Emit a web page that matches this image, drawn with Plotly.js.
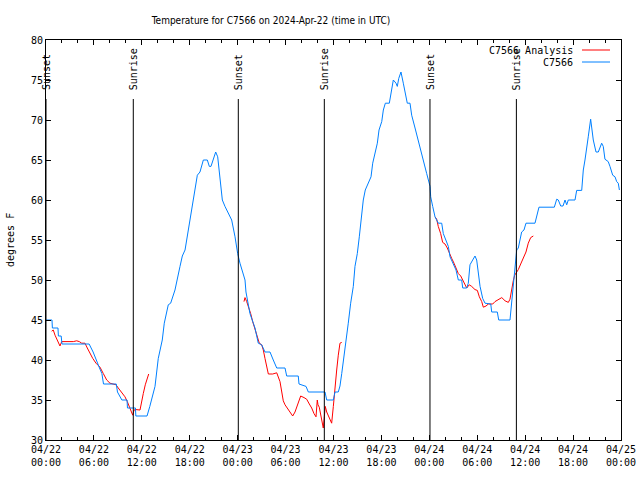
<!DOCTYPE html>
<html>
<head>
<meta charset="utf-8">
<script src="https://cdn.plot.ly/plotly-3.0.1.min.js"></script>
<style>html,body{margin:0;padding:0;background:#fff;}#chart{width:640px;height:480px;}</style>
</head>
<body>
<div id="chart"></div>
<script>
// Hours since 2024-04-22 00:00 UTC
const obsHours = [0,0.75,0.8,1.5,1.55,1.9,2.0,5.4,5.9,6.4,6.7,7.0,7.2,8.8,8.95,9.5,10.15,10.2,11.2,11.25,12.65,13.0,13.65,14.06,14.27,14.56,14.81,15.31,15.61,16.15,16.78,17.07,17.41,17.69,18.03,18.37,18.75,18.95,19.28,19.70,20.20,20.45,20.66,20.95,21.25,21.50,21.79,22.08,22.41,22.83,23.25,23.67,24.00,24.29,24.71,24.92,25.04,25.33,25.54,25.96,26.17,26.58,27.01,27.42,28.05,28.46,28.89,29.93,30.14,31.59,31.68,32.56,32.85,34.94,35.15,35.98,36.19,36.6,36.81,37.03,37.57,37.85,38.15,38.48,38.69,38.98,39.23,39.53,39.73,39.98,40.36,40.70,40.91,41.11,41.49,41.70,42.04,42.24,42.49,42.99,43.16,43.49,43.83,43.99,44.17,44.45,44.74,45.08,45.24,45.58,45.79,46.21,46.62,47.05,47.33,47.67,48.09,48.17,48.42,48.71,49.12,49.55,49.75,50.09,50.38,50.59,51.00,51.34,51.63,52.05,52.18,52.68,52.88,53.09,53.43,53.72,53.93,54.13,54.35,54.68,54.97,55.69,55.81,56.51,56.69,58.10,58.31,58.51,58.73,58.94,59.14,59.35,59.56,59.85,60.10,61.23,61.44,61.73,63.65,63.95,64.15,64.45,64.74,64.99,65.20,65.40,66.24,66.45,67.08,67.28,67.49,67.70,67.90,68.20,68.33,68.53,68.87,69.16,69.58,69.78,69.99,70.40,70.62,70.96,71.25,71.46,71.66,71.8];
const obsTemp = [45,45,44,44,43,43,42,42,41,39.6,39,38.3,37,37,36,35,35,34,34,33,33,34.2,36.7,40.2,41.3,42.5,44.6,46.9,47.1,48.75,51.7,53,53.75,55.4,57.5,59.8,61.7,63.1,63.5,65,65,64.2,64.2,65,66,65.4,62.9,60,59.2,58.3,57.5,55.4,53.3,52.1,50.8,50,48.5,46.8,45.8,44.6,44,42.1,41.9,41,41,40,39,39,38,38,37,36.7,36,36,35,35,36,36,36.75,38.3,42.1,44.6,47.1,49.2,51.7,53.3,55.4,58.5,60,61.25,62.1,62.9,64.6,65.6,67.1,68.75,69.8,71.25,72.1,72.1,73.3,75,74.6,74.2,75.2,76,74.6,72.9,72.1,72.1,70.6,69,67.3,65.8,64.6,63.3,61.7,60.4,59.2,57.9,57.1,57.1,55.8,55,54.2,52.9,52.1,51.25,50,50,49,49,49.6,51.9,52.5,53,52.5,50.6,49.2,47.7,47.1,47,46,46,45,45,47.1,49.2,52.1,53.75,54,55,56,56.25,57.1,57.1,58,59.1,59.1,60.1,60,59.25,59.25,60,59.4,60,60,61.2,61.2,63.75,65,66.25,67.9,70.1,69,67.5,66,66,67.1,66.7,65.1,64.8,64.2,63.1,62.9,62.3,62.1,61.25,61];

const anaHours = [0.71,0.91,1.13,1.54,1.75,1.97,3.42,3.84,4.17,4.47,4.88,5.17,5.51,5.85,6.26,6.76,7.18,7.60,8.01,8.43,8.77,9.05,9.48,9.89,10.18,10.52,10.73,10.86,11.02,11.27,11.77,11.98,12.18,12.43,12.68,12.86,
  null,
  24.79,24.92,25.13,25.33,25.63,25.88,26.17,26.46,26.71,27.01,27.21,27.42,27.63,27.84,28.39,28.89,29.30,29.51,29.71,29.93,30.22,30.55,30.89,31.18,31.52,31.89,32.31,32.64,32.97,33.27,33.56,33.81,33.97,34.06,34.22,34.40,34.56,34.72,34.85,34.97,35.15,35.40,35.56,35.77,35.98,36.19,36.40,36.60,36.81,37.03,
  null,
  48.71,48.92,49.12,49.42,49.67,49.96,50.25,50.50,50.80,51.09,51.34,51.63,51.93,52.18,52.47,52.68,53.00,53.30,53.72,54.01,54.26,54.56,54.76,55.10,55.39,55.94,56.22,56.64,57.07,57.48,57.89,58.10,58.31,58.51,58.69,58.85,59.14,59.44,59.77,60.10,60.39,60.69,61.02];
const anaTemp = [43.6,43.75,43.1,42.3,41.75,42.3,42.3,42.4,42.3,42.1,42.1,41.5,40.8,40.2,39.6,39.1,38.3,37.5,37.1,37.0,36.9,36.5,36,35.4,34.8,34,33.5,33.1,33.75,33.8,33.75,35,35.8,36.9,37.7,38.25,
  null,
  47.3,47.8,47.3,46.75,45.8,44.8,43.75,42.9,42.1,41.9,41.25,40.2,39,38.25,38.25,38.4,37.3,36,34.9,34.4,34,33.5,33,33.5,34.5,35.5,35.3,35.1,34.5,34,33.3,32.9,35,34.4,34.1,33.3,32.3,31.5,32.9,34.2,33.5,32.9,32.5,32.1,34.2,37.1,38.75,40.6,42.1,42.2,
  null,
  57.9,57.6,56.7,55.8,54.7,54.5,54,53.3,52.7,52.1,51.5,50.8,50.5,50,49.4,49,49.4,49.2,48.8,48.7,47.9,47.3,46.6,46.75,47,47,47.3,47.6,47.8,47.4,47.2,47.6,49,49.9,50.6,50.8,51.3,52,52.7,53.5,54.6,55.3,55.5];

const sunHours = [0.0, 10.93, 24.08, 34.85, 48.08, 58.9];
const sunLabels = ["Sunset","Sunrise","Sunset","Sunrise","Sunset","Sunrise"];

const seriesNames = ["C7566 Analysis", "C7566"];
const seriesColors = ["#ff0000", "#0080ff"];

const BASE = Date.UTC(2024, 3, 22, 0, 0, 0);
function toDate(h) {
  if (h === null) return null;
  const d = new Date(BASE + h * 3600000);
  const p = n => String(n).padStart(2, "0");
  return d.getUTCFullYear() + "-" + p(d.getUTCMonth() + 1) + "-" + p(d.getUTCDate()) + " " +
    p(d.getUTCHours()) + ":" + p(d.getUTCMinutes()) + ":" + p(d.getUTCSeconds());
}

const mono = "DejaVu Sans Mono, monospace";
const W = 640, H = 480, L = 46, R = 19, T = 40, B = 40;
const pw = W - L - R, ph = H - T - B;
const px = x => (x - L) / pw;          // pixel -> paper x
const py = y => (H - B - y) / ph;      // pixel -> paper y

const traces = [
  {x: anaHours.map(toDate), y: anaTemp, type: "scatter", mode: "lines", name: seriesNames[0],
   line: {color: seriesColors[0], width: 1}, connectgaps: false, showlegend: false},
  {x: obsHours.map(toDate), y: obsTemp, type: "scatter", mode: "lines", name: seriesNames[1],
   line: {color: seriesColors[1], width: 1}, showlegend: false}
];

const shapes = sunHours.map(h => ({
  type: "line", xref: "x", yref: "paper", x0: toDate(h), x1: toDate(h), y0: 0, y1: py(99),
  line: {color: "#000", width: 1}
}));
shapes.push({type: "line", xref: "paper", yref: "paper", x0: px(582), x1: px(610), y0: py(50), y1: py(50), line: {color: seriesColors[0], width: 1}});
shapes.push({type: "line", xref: "paper", yref: "paper", x0: px(582), x1: px(610), y0: py(62), y1: py(62), line: {color: seriesColors[1], width: 1}});

const annotations = sunHours.map((h, i) => ({
  xref: "x", yref: "paper", x: toDate(h), y: py(92), text: sunLabels[i], textangle: -90,
  showarrow: false, xanchor: "center", yanchor: "bottom", font: {family: mono, size: 10, color: "#000"}
}));
annotations.push({xref: "paper", yref: "paper", x: px(575), y: py(50), text: seriesNames[0], showarrow: false,
  xanchor: "right", yanchor: "middle", font: {family: mono, size: 10, color: "#000"}});
annotations.push({xref: "paper", yref: "paper", x: px(575), y: py(62), text: seriesNames[1], showarrow: false,
  xanchor: "right", yanchor: "middle", font: {family: mono, size: 10, color: "#000"}});
annotations.push({xref: "paper", yref: "paper", x: px(10), y: 0.5, text: "degrees F", textangle: -90, showarrow: false,
  xanchor: "center", yanchor: "middle", font: {family: mono, size: 10, color: "#000"}});

const layout = {
  width: W, height: H,
  margin: {l: L, r: R, t: T, b: B, pad: 0},
  paper_bgcolor: "#fff", plot_bgcolor: "#fff",
  showlegend: false,
  title: {text: "Temperature for C7566 on 2024-Apr-22 (time in UTC)",
    font: {family: "DejaVu Sans Condensed, DejaVu Sans Mono, monospace", size: 10, color: "#000"},
    xref: "paper", x: px(271), xanchor: "center", yref: "container", y: 1 - 20 / H, yanchor: "middle"},
  xaxis: {
    type: "date", range: ["2024-04-22 00:00:00", "2024-04-25 00:00:00"],
    tick0: "2024-04-22 00:00:00", dtick: 6 * 3600000, tickformat: "%m/%d<br>%H:%M",
    ticks: "inside", ticklen: 5, tickcolor: "#000", tickwidth: 1,
    minor: {dtick: 2 * 3600000, tick0: "2024-04-22 00:00:00", ticks: "inside", ticklen: 3, tickcolor: "#000", showgrid: false},
    showline: true, linecolor: "#000", linewidth: 1, mirror: "allticks",
    showgrid: false, zeroline: false,
    tickfont: {family: mono, size: 10, color: "#000"}
  },
  yaxis: {
    range: [30, 80], dtick: 5, tick0: 30,
    ticks: "inside", ticklen: 5, tickcolor: "#000", tickwidth: 1,
    showline: true, linecolor: "#000", linewidth: 1, mirror: "allticks",
    showgrid: false, zeroline: false,
    tickfont: {family: mono, size: 10, color: "#000"}
  },
  shapes: shapes,
  annotations: annotations
};

Plotly.newPlot("chart", traces, layout, {staticPlot: true, displayModeBar: false});
</script>
</body>
</html>
